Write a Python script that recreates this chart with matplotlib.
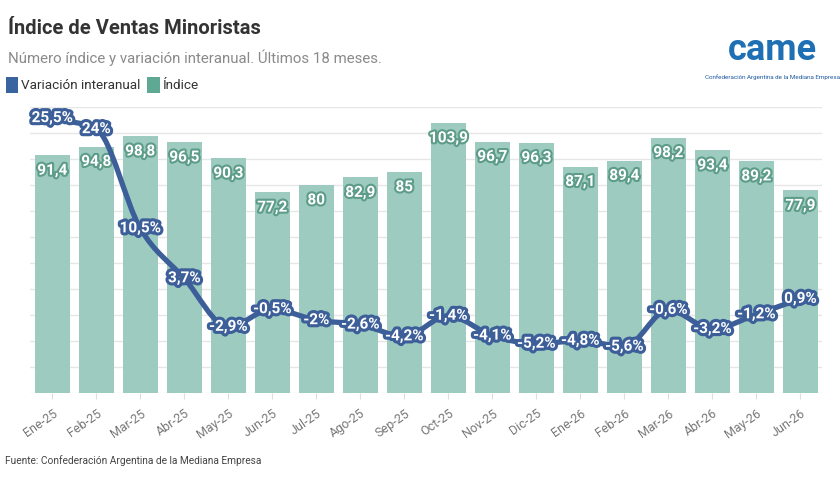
import matplotlib.pyplot as plt
import matplotlib.patheffects as pe
from matplotlib.path import Path
from matplotlib.patches import PathPatch
import numpy as np

plt.rcParams['font.family'] = ['Roboto', 'DejaVu Sans']

# Datos
meses = ['Ene-25', 'Feb-25', 'Mar-25', 'Abr-25', 'May-25', 'Jun-25', 'Jul-25', 'Ago-25', 'Sep-25',
         'Oct-25', 'Nov-25', 'Dic-25', 'Ene-26', 'Feb-26', 'Mar-26', 'Abr-26', 'May-26', 'Jun-26']
indice = [91.4, 94.8, 98.8, 96.5, 90.3, 77.2, 80, 82.9, 85,
          103.9, 96.7, 96.3, 87.1, 89.4, 98.2, 93.4, 89.2, 77.9]
variacion = [25.5, 24, 10.5, 3.7, -2.9, -0.5, -2, -2.6, -4.2,
             -1.4, -4.1, -5.2, -4.8, -5.6, -0.6, -3.2, -1.2, 0.9]

C_BAR = '#9ecbbf'
C_BAR_DARK = '#5c9c88'
C_LINE = '#3d5f99'
C_LEG_GREEN = '#5fa893'


def fmt(v):
    s = f'{v:g}'
    return s.replace('.', ',')


def monotone_path(x, y):
    """Curva monotona (estilo d3 monotoneX) como Path de Bezier."""
    x = np.asarray(x, float)
    y = np.asarray(y, float)
    n = len(x)
    h = np.diff(x)
    d = np.diff(y) / h
    m = np.zeros(n)
    m[0], m[-1] = d[0], d[-1]
    for i in range(1, n - 1):
        if d[i - 1] * d[i] <= 0:
            m[i] = 0
        else:
            m[i] = (np.sign(d[i - 1]) + np.sign(d[i])) * min(abs(d[i - 1]), abs(d[i]),
                                                                0.5 * abs((h[i - 1] * d[i] + h[i] * d[i - 1]) / (h[i - 1] + h[i])))
    verts = [(x[0], y[0])]
    codes = [Path.MOVETO]
    for i in range(n - 1):
        dx = h[i] / 3
        verts += [(x[i] + dx, y[i] + m[i] * dx), (x[i + 1] - dx, y[i + 1] - m[i + 1] * dx), (x[i + 1], y[i + 1])]
        codes += [Path.CURVE4] * 3
    return Path(verts, codes)


fig = plt.figure(figsize=(8.4, 4.78), dpi=100)
ax = fig.add_axes([0.036, 0.178, 0.943, 0.598])
x = np.arange(len(meses))

ax.bar(x, indice, width=0.8, color=C_BAR, zorder=2)
ax.set_xlim(-0.5, len(meses) - 0.5)
ax.set_ylim(0, 110)
ax.set_yticks(np.arange(0, 111, 10))
ax.grid(axis='y', color='#e6e6e6', linewidth=1, zorder=0)
ax.set_yticklabels([])
ax.tick_params(axis='y', length=0)
ax.set_xticks(x)
ax.set_xticklabels(meses, rotation=35, ha='right', rotation_mode='anchor', color='#777777', fontsize=9)
ax.tick_params(axis='x', length=4, color='#dddddd', pad=6)
for s in ax.spines.values():
    s.set_visible(False)

for xi, v in zip(x, indice):
    ax.text(xi, v - 3.2, fmt(v), ha='center', va='top', fontsize=11, fontweight='bold', color='white',
            zorder=3, path_effects=[pe.withStroke(linewidth=3, foreground=C_BAR_DARK)])

ax2 = ax.twinx()
ax2.set_ylim(-11.9, 27)
ax2.axis('off')
ax2.add_patch(PathPatch(monotone_path(x, variacion), facecolor='none', edgecolor=C_LINE,
                        linewidth=3.8, capstyle='round', joinstyle='round', zorder=4))
for xi, v in zip(x, variacion):
    ax2.text(xi, v, fmt(v) + '%', ha='center', va='center', fontsize=11, fontweight='bold', color='white',
             zorder=5, path_effects=[pe.withStroke(linewidth=4.5, foreground=C_LINE)])

# Titulos
fig.text(0.010, 0.940, 'Índice de Ventas Minoristas', fontsize=14.5, fontweight='bold', color='#333333', va='center')
fig.text(0.010, 0.880, 'Número índice y variación interanual. Últimos 18 meses.', fontsize=10.8,
         color='#8a8a8a', va='center')

# Leyenda
fig.patches.append(plt.Rectangle((0.007, 0.806), 0.015, 0.032, transform=fig.transFigure,
                                 facecolor='#3a64a0', figure=fig))
fig.text(0.025, 0.821, 'Variación interanual', fontsize=9.7, color='#333333', va='center')
fig.patches.append(plt.Rectangle((0.175, 0.806), 0.015, 0.032, transform=fig.transFigure,
                                 facecolor=C_LEG_GREEN, figure=fig))
fig.text(0.194, 0.821, 'Índice', fontsize=9.7, color='#333333', va='center')

# Logo
fig.text(0.920, 0.895, 'came', fontsize=26, fontweight='bold', color='#1f6fb5', ha='center', va='center')
fig.text(0.920, 0.838, 'Confederación Argentina de la Mediana Empresa', fontsize=4.5, color='#1f5aa0',
         ha='center', va='center')

# Fuente
fig.text(0.006, 0.036, 'Fuente: Confederación Argentina de la Mediana Empresa', fontsize=7.3,
         color='#444444', va='center')

fig.savefig('out.png', dpi=100)
